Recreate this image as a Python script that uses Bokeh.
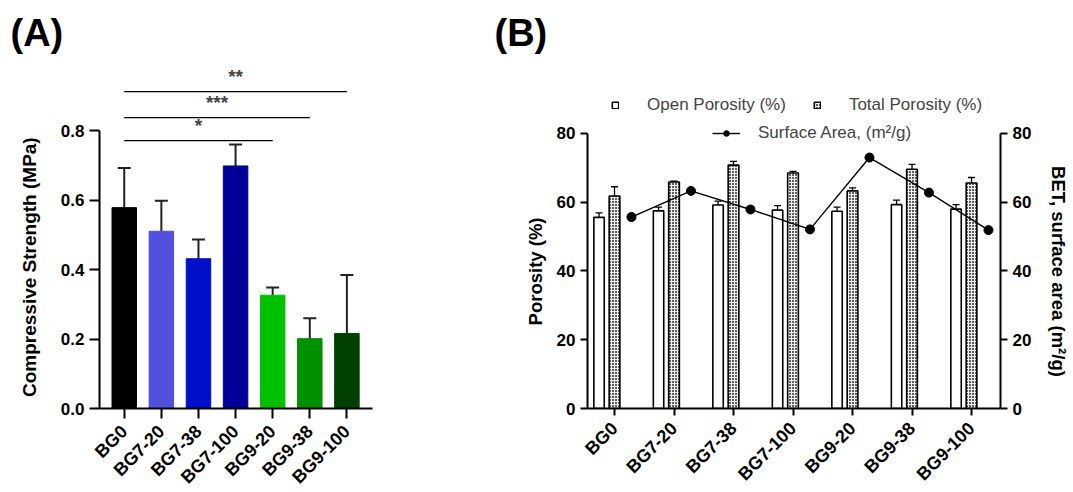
import math
from bokeh.plotting import figure
from bokeh.layouts import row
from bokeh.models import (ColumnDataSource, Whisker, TeeHead, Label, Range1d,
                          LinearAxis, FixedTicker, Legend, LegendItem, PrintfTickFormatter)
from bokeh.embed import file_html
from bokeh.resources import INLINE

categories = ["BG0", "BG7-20", "BG7-38", "BG7-100", "BG9-20", "BG9-38", "BG9-100"]

# Panel A: compressive strength (MPa)
strength = [0.578, 0.51, 0.431, 0.698, 0.326, 0.201, 0.216]
strength_err = [0.114, 0.088, 0.055, 0.062, 0.022, 0.059, 0.168]
bar_colors = ["#000000", "#5050DC", "#0010C8", "#000098", "#00C000", "#009000", "#004000"]
sig_pairs = [("BG0", "BG9-20", "*"), ("BG0", "BG9-38", "***"), ("BG0", "BG9-100", "**")]
sig_levels = [0.771, 0.837, 0.912]

# Panel B: porosity (%) and BET surface area (m2/g)
open_por = [55.6, 57.5, 59.2, 57.7, 57.4, 59.3, 58.0]
open_err = [1.3, 1.1, 1.1, 1.3, 1.2, 1.3, 1.3]
total_por = [61.8, 65.9, 70.8, 68.5, 63.3, 69.6, 65.6]
total_err = [2.7, 0.2, 1.1, 0.5, 0.9, 1.4, 1.6]
surface = [55.7, 63.3, 57.9, 52.1, 73.0, 62.8, 51.9]

FONT = "Liberation Sans"
NB = "\u00a0"
xs = list(range(len(categories)))
overrides = {i: c for i, c in enumerate(categories)}

def style_axes(p, tick_size, title_size, tick_len):
    for ax in p.axis:
        ax.axis_line_width = 2
        ax.major_tick_line_width = 2
        ax.major_tick_in = 0
        ax.major_tick_out = tick_len
        ax.minor_tick_line_color = None
        ax.major_label_text_font = FONT
        ax.major_label_text_font_style = "bold"
        ax.major_label_text_font_size = tick_size
        ax.major_label_text_color = "black"
        ax.axis_label_text_font = FONT
        ax.axis_label_text_font_style = "bold"
        ax.axis_label_text_font_size = title_size
        ax.axis_label_text_color = "black"
    p.xaxis.major_label_orientation = math.pi / 4
    p.xaxis.major_label_text_font_size = "18px"
    p.xaxis.major_label_standoff = 10

def style_title(p, offset):
    p.title.text_font = FONT
    p.title.text_font_style = "bold"
    p.title.text_font_size = "38px"
    p.title.text_color = "black"
    p.title.align = "left"
    p.title.offset = offset
    p.title.standoff = 18

TOP, BOTTOM, FH = 62, 84, 346

# ---------------- Panel A ----------------
pA = figure(width=480, height=492, output_backend="svg", toolbar_location=None,
            title="(A)",
            x_range=Range1d(-0.667, 6.69), y_range=Range1d(0, 0.9957),
            min_border_left=99, min_border_right=108, min_border_top=TOP, min_border_bottom=BOTTOM,
            frame_width=273, frame_height=FH)
pA.outline_line_color = None
pA.grid.visible = False
srcA = ColumnDataSource(dict(x=xs, top=strength, up=[s + e for s, e in zip(strength, strength_err)],
                             color=bar_colors))
pA.vbar(x="x", top="top", width=0.66, color="color", source=srcA)
pA.add_layout(Whisker(source=srcA, base="x", lower="top", upper="up", line_width=2,
                      line_color="#222222",
                      upper_head=TeeHead(size=13, line_width=2, line_color="#222222"),
                      lower_head=None))
for (a, b, s), lvl in zip(sig_pairs, sig_levels):
    ia, ib = categories.index(a), categories.index(b)
    pA.line([ia, ib], [lvl, lvl], line_color="black", line_width=1.3)
    pA.add_layout(Label(x=(ia + ib) / 2, y=lvl + 0.012, text=s, text_align="center",
                        text_font=FONT, text_font_style="bold", text_font_size="19px"))
pA.yaxis.bounds = (0, 0.8)
pA.yaxis.ticker = FixedTicker(ticks=[0, 0.2, 0.4, 0.6, 0.8])
pA.yaxis.formatter = PrintfTickFormatter(format="%.1f")
pA.yaxis.axis_label = "Compressive Strength (MPa)" + NB * 12
pA.yaxis.axis_label_standoff = 18
pA.xaxis.ticker = FixedTicker(ticks=xs)
pA.xaxis.major_label_overrides = overrides
style_axes(pA, "17px", "19px", 10)
style_title(pA, -89)

# ---------------- Panel B ----------------
pB = figure(width=593, height=492, output_backend="svg", toolbar_location=None,
            title="(B)",
            x_range=Range1d(-0.454, 6.487), y_range=Range1d(0, 100.65),
            min_border_left=107, min_border_right=73, min_border_top=TOP, min_border_bottom=BOTTOM,
            frame_width=413, frame_height=FH)
pB.outline_line_color = None
pB.grid.visible = False
pB.extra_y_ranges = {"sa": Range1d(0, 100.65)}
srcB = ColumnDataSource(dict(
    xo=[x - 0.26 for x in xs], xt=xs, xs=[x + 0.285 for x in xs],
    o=open_por, olo=[v - e for v, e in zip(open_por, open_err)],
    ohi=[v + e for v, e in zip(open_por, open_err)],
    t=total_por, thi=[v + e for v, e in zip(total_por, total_err)],
    s=surface))
r_open = pB.vbar(x="xo", top="o", width=0.175, fill_color="white", line_color="black",
                 line_width=1.6, source=srcB)
r_tot = pB.vbar(x="xt", top="t", width=0.18, fill_color="#5e5e5e", line_color="black",
                line_width=1.6, hatch_pattern="cross", hatch_color="#f0f0f0",
                hatch_scale=3, hatch_weight=1, source=srcB)
pB.add_layout(Whisker(source=srcB, base="xo", lower="olo", upper="ohi", line_width=1.3,
                      upper_head=TeeHead(size=7, line_width=1.3),
                      lower_head=TeeHead(size=7, line_width=1.3)))
pB.add_layout(Whisker(source=srcB, base="xt", lower="t", upper="thi", line_width=1.3,
                      upper_head=TeeHead(size=7, line_width=1.3), lower_head=None))
r_line = pB.line(x="xs", y="s", line_color="black", line_width=1.4, y_range_name="sa", source=srcB)
r_pts = pB.scatter(x="xs", y="s", size=9, color="black", y_range_name="sa", source=srcB)

pB.yaxis.bounds = (0, 80)
pB.yaxis.ticker = FixedTicker(ticks=[0, 20, 40, 60, 80])
pB.yaxis.axis_label = "Porosity (%)" + NB * 14
pB.yaxis.axis_label_standoff = 8
ax_r = LinearAxis(y_range_name="sa", bounds=(0, 80), ticker=FixedTicker(ticks=[0, 20, 40, 60, 80]),
                  axis_label=NB * 14 + "BET, surface area (m²/g)", axis_label_standoff=14)
pB.add_layout(ax_r, "right")
pB.xaxis.ticker = FixedTicker(ticks=xs)
pB.xaxis.major_label_overrides = overrides
style_axes(pB, "17px", "18.5px", 7)
style_title(pB, -93)

leg1 = Legend(items=[LegendItem(label="Open Porosity (%)", renderers=[r_open]),
                     LegendItem(label="Total Porosity (%)", renderers=[r_tot])],
              orientation="horizontal", location=(24, 293))
leg2 = Legend(items=[LegendItem(label="Surface Area, (m²/g)", renderers=[r_line, r_pts])],
              orientation="horizontal", location=(125, 265))
for lg in (leg1, leg2):
    lg.background_fill_alpha = 0
    lg.border_line_color = None
    lg.label_text_font = FONT
    lg.label_text_font_size = "17px"
    lg.padding = 0
    lg.margin = 0
    lg.label_height = 20
leg1.glyph_width = 8
leg1.glyph_height = 8
leg1.label_standoff = 28
leg1.spacing = 27
leg2.glyph_width = 28
leg2.glyph_height = 14
leg2.label_standoff = 18
pB.add_layout(leg1)
pB.add_layout(leg2)

layout = row(pA, pB)
open("out.html", "w").write(file_html(layout, INLINE))
